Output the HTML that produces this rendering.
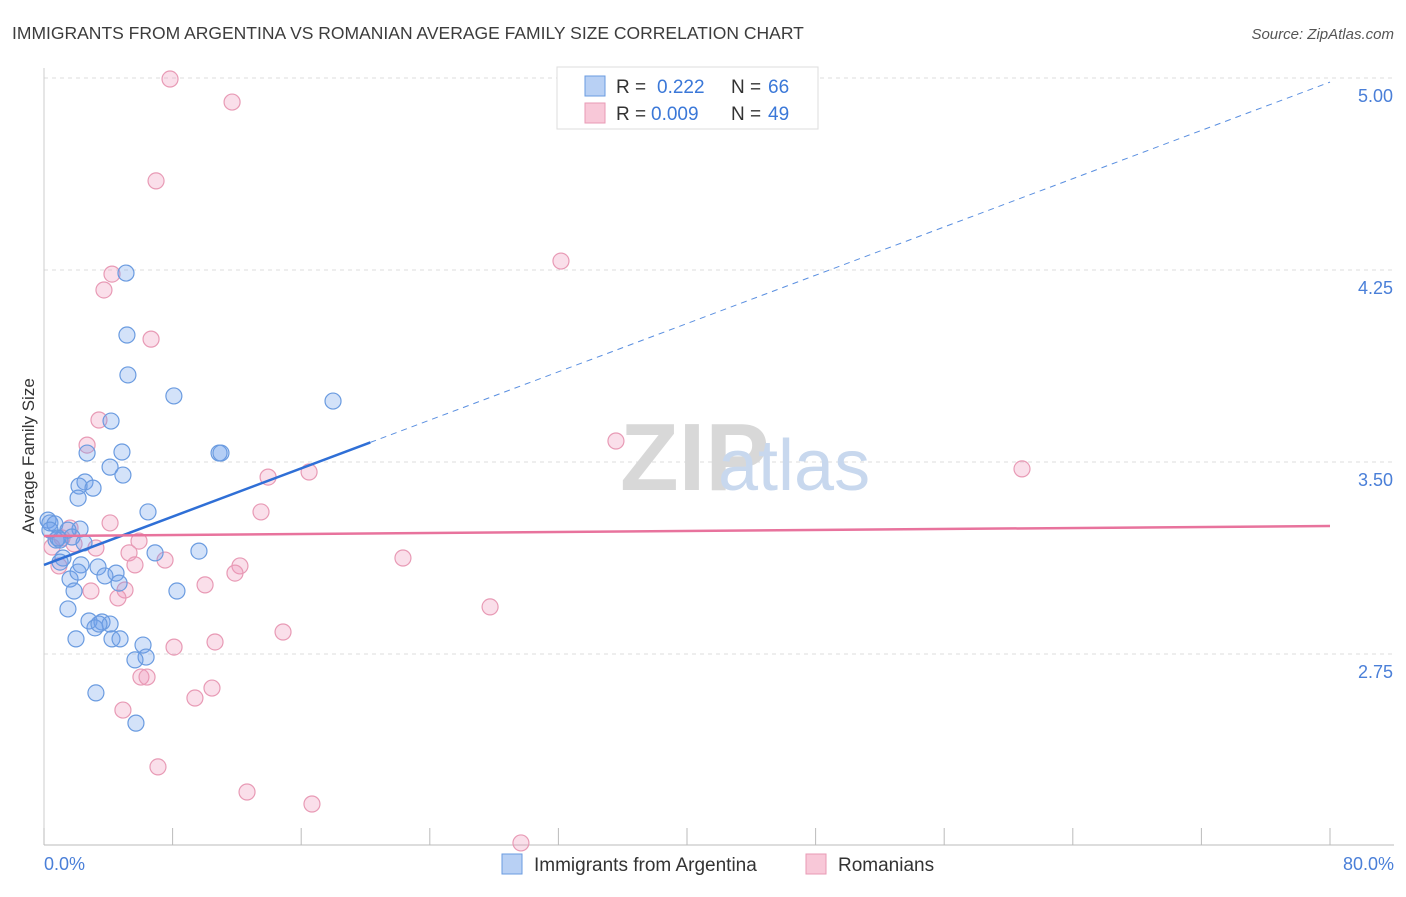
<!DOCTYPE html>
<html><head><meta charset="utf-8">
<style>
body{margin:0;background:#fff;font-family:"Liberation Sans",sans-serif;}
svg text{font-family:"Liberation Sans",sans-serif;}
</style></head>
<body>
<svg width="1406" height="892">
<text x="12" y="39" font-size="17.5" fill="#3c3c3c">IMMIGRANTS FROM ARGENTINA VS ROMANIAN AVERAGE FAMILY SIZE CORRELATION CHART</text>
<text x="1394" y="39" font-size="15" fill="#555" font-style="italic" text-anchor="end">Source: ZipAtlas.com</text>
<g id="grid"></g>
<g id="axes"></g>
<text x="620" y="490" font-size="96" fill="#d8d8d8" font-family="Liberation Serif" font-weight="bold">ZIP</text>
<text x="718" y="490" font-size="72" fill="#c8d8ee">atlas</text>
<g id="points"></g>
<g id="trends"></g>
<text transform="translate(34,456) rotate(-90)" font-size="17" fill="#333" text-anchor="middle">Average Family Size</text>
<text x="44" y="870" font-size="18" fill="#4a7fd8">0.0%</text>
<text x="1394" y="870" font-size="18" fill="#4a7fd8" text-anchor="end">80.0%</text>
<g>
<rect x="557" y="67" width="261" height="62" fill="#fff" stroke="#ddd"/>
<rect x="585" y="76" width="20" height="20" fill="#b8d0f4" stroke="#6a9be0"/>
<text x="616" y="93" font-size="19" fill="#333">R = </text><text x="657" y="93" font-size="19" fill="#3b78d8">0.222</text>
<text x="731" y="93" font-size="19" fill="#333">N = </text><text x="768" y="93" font-size="19" fill="#3b78d8">66</text>
<rect x="585" y="103" width="20" height="20" fill="#f8c8d8" stroke="#e89ab5"/>
<text x="616" y="120" font-size="19" fill="#333">R = </text><text x="651" y="120" font-size="19" fill="#3b78d8">0.009</text>
<text x="731" y="120" font-size="19" fill="#333">N = </text><text x="768" y="120" font-size="19" fill="#3b78d8">49</text>
</g>
<g>
<rect x="502" y="854" width="20" height="20" fill="#b8d0f4" stroke="#6a9be0"/>
<text x="534" y="871" font-size="19" fill="#333">Immigrants from Argentina</text>
<rect x="806" y="854" width="20" height="20" fill="#f8c8d8" stroke="#e89ab5"/>
<text x="838" y="871" font-size="19" fill="#333">Romanians</text>
</g>
</svg>
<script>
const yTicks=[2.75,3.5,4.25,5.0];
const yTickLabels=["2.75","3.50","4.25","5.00"];
const xTicks=[0,8,16,24,32,40,48,56,64,72,80];
const blueX=[5.10,5.16,5.22,8.08,17.98,4.17,4.85,2.68,10.89,11.01,4.11,4.91,2.55,2.18,3.05,2.12,6.47,0.25,0.37,0.68,2.24,1.49,1.74,1.00,0.75,2.49,6.91,9.64,1.18,1.00,2.30,3.36,4.48,3.79,1.62,2.12,4.67,8.27,1.87,1.49,2.80,3.61,4.11,3.17,3.42,1.99,4.23,4.73,6.16,6.35,5.66,3.23,5.72,0.37,0.87];
const blueY=[4.238,3.996,3.840,3.758,3.738,3.660,3.539,3.535,3.535,3.535,3.480,3.449,3.422,3.406,3.398,3.359,3.305,3.273,3.262,3.258,3.238,3.234,3.207,3.195,3.195,3.184,3.145,3.152,3.125,3.109,3.098,3.090,3.066,3.055,3.043,3.070,3.027,2.996,2.996,2.926,2.879,2.875,2.867,2.852,2.867,2.809,2.809,2.809,2.785,2.738,2.727,2.598,2.480,3.234,3.203];
const pinkX=[7.84,11.70,6.97,32.16,4.23,3.73,6.66,3.42,2.68,35.58,60.84,13.94,16.49,4.11,13.50,1.62,1.87,5.91,3.23,5.29,22.33,7.53,0.93,5.66,12.19,11.88,10.02,5.04,2.92,4.60,27.75,14.87,10.64,8.09,6.03,6.41,10.45,9.39,4.91,7.09,12.63,16.67,29.67,0.50,1.12];
const pinkY=[4.996,4.906,4.598,4.285,4.234,4.172,3.980,3.664,3.566,3.582,3.473,3.441,3.461,3.262,3.305,3.242,3.180,3.191,3.164,3.145,3.125,3.117,3.094,3.098,3.094,3.066,3.020,3.000,2.996,2.969,2.934,2.836,2.797,2.777,2.660,2.660,2.617,2.578,2.531,2.309,2.211,2.164,2.012,3.168,3.203];
const blueTrend=[3.098,4.984];
const pinkTrend=[3.211,3.25];
const blueSolidEnd=20.3;
const NS="http://www.w3.org/2000/svg";
function X(v){return 44+v/80*1286;}
function Y(v){return 462-(v-3.5)*256;}
function mk(tag,attrs,parent){const e=document.createElementNS(NS,tag);for(const k in attrs)e.setAttribute(k,attrs[k]);document.getElementById(parent).appendChild(e);return e;}
yTicks.forEach((t,i)=>{
 const l=mk('line',{x1:44,x2:1394,y1:Y(t),y2:Y(t),stroke:'#ddd','stroke-dasharray':'4,4'},'grid');
 
 
 const tx=mk('text',{x:1393,y:Y(t)+24,'font-size':18,fill:'#4a7fd8','text-anchor':'end'},'grid');
 tx.textContent=yTickLabels[i];
 
 
});
const ax=mk('line',{x1:44,x2:1394,y1:845,y2:845,stroke:'#bbb'},'axes');


const ay=mk('line',{x1:44,x2:44,y1:68,y2:845,stroke:'#ccc'},'axes');


xTicks.forEach(t=>{
 const l=mk('line',{x1:X(t),x2:X(t),y1:828,y2:845,stroke:'#bbb'},'axes');
 
 
});
function pts(xs,ys,fill,stroke,name){
 xs.forEach((x,i)=>{
  const c=mk('circle',{cx:X(x),cy:Y(ys[i]),r:8,fill:fill,stroke:stroke,'stroke-width':1.2},'points');
  
  
 });
}
pts(pinkX,pinkY,'rgba(240,150,185,0.3)','#e89ab5','romanian-point');
pts(blueX,blueY,'rgba(110,160,235,0.3)','#6a9be0','argentina-point');
function lerp(tr,x){return tr[0]+(tr[1]-tr[0])*x/80;}
const b1=mk('line',{x1:X(0),y1:Y(blueTrend[0]),x2:X(blueSolidEnd),y2:Y(lerp(blueTrend,blueSolidEnd)),stroke:'#2f6fd6','stroke-width':2.5},'trends');


const b2=mk('line',{x1:X(blueSolidEnd),y1:Y(lerp(blueTrend,blueSolidEnd)),x2:X(80),y2:Y(blueTrend[1]),stroke:'#5a8fe0','stroke-width':1,'stroke-dasharray':'6,5'},'trends');


const p1=mk('line',{x1:X(0),y1:Y(pinkTrend[0]),x2:X(80),y2:Y(pinkTrend[1]),stroke:'#e8739d','stroke-width':2.5},'trends');


</script>
</body></html>
